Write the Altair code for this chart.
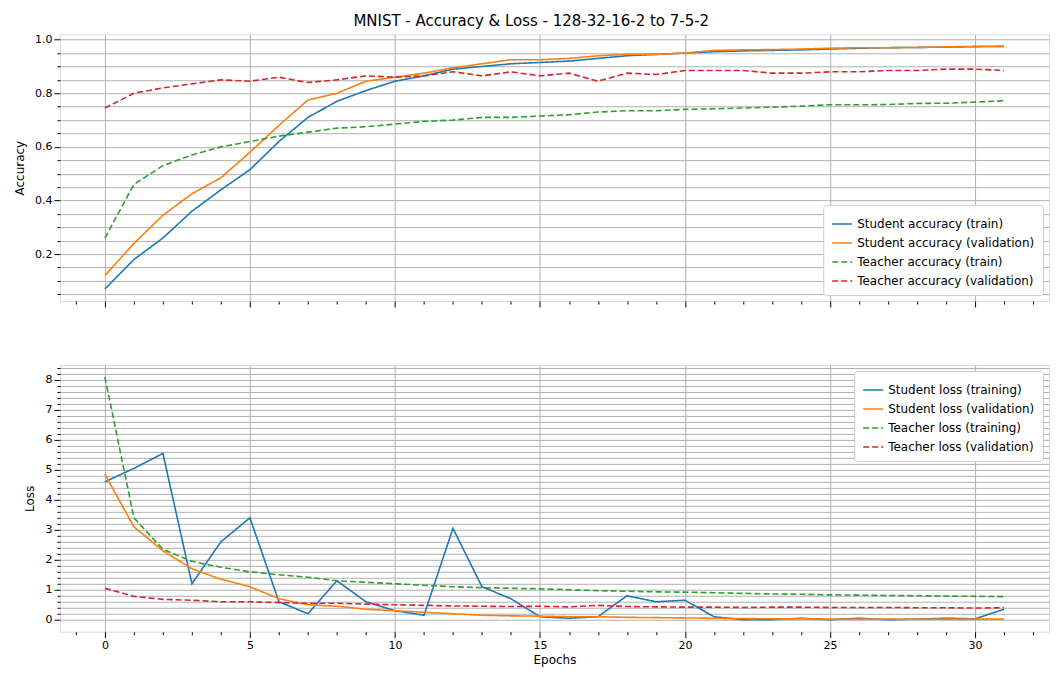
import altair as alt
import pandas as pd

epochs = list(range(32))

# accuracy
student_acc_train = [0.07, 0.18, 0.26, 0.36, 0.44, 0.515, 0.62, 0.71, 0.77, 0.81, 0.845, 0.865, 0.89, 0.90, 0.91, 0.915,
                     0.92, 0.93, 0.94, 0.945, 0.95, 0.955, 0.958, 0.96, 0.962, 0.965, 0.968, 0.97, 0.971, 0.972, 0.974, 0.975]
student_acc_val = [0.12, 0.24, 0.345, 0.425, 0.485, 0.58, 0.68, 0.775, 0.80, 0.845, 0.86, 0.875, 0.895, 0.91, 0.925, 0.925,
                   0.93, 0.94, 0.945, 0.945, 0.95, 0.96, 0.962, 0.963, 0.965, 0.968, 0.97, 0.97, 0.971, 0.973, 0.975, 0.975]
teacher_acc_train = [0.26, 0.46, 0.53, 0.57, 0.60, 0.62, 0.64, 0.655, 0.67, 0.675, 0.685, 0.695, 0.70, 0.71, 0.71, 0.715,
                     0.72, 0.73, 0.735, 0.735, 0.74, 0.742, 0.745, 0.748, 0.752, 0.757, 0.757, 0.758, 0.762, 0.763, 0.767, 0.772]
teacher_acc_val = [0.745, 0.80, 0.82, 0.835, 0.85, 0.845, 0.86, 0.84, 0.85, 0.865, 0.86, 0.865, 0.88, 0.865, 0.88, 0.865,
                   0.875, 0.845, 0.875, 0.87, 0.885, 0.885, 0.885, 0.875, 0.875, 0.88, 0.88, 0.885, 0.885, 0.89, 0.89, 0.885]

# loss
student_loss_train = [4.6, 5.05, 5.55, 1.2, 2.6, 3.4, 0.6, 0.2, 1.3, 0.6, 0.3, 0.15, 3.05, 1.1, 0.7, 0.1,
                      0.05, 0.1, 0.8, 0.6, 0.65, 0.1, 0.0, 0.0, 0.05, 0.0, 0.05, 0.0, 0.02, 0.05, 0.03, 0.35]
student_loss_val = [4.85, 3.1, 2.3, 1.7, 1.35, 1.1, 0.7, 0.5, 0.45, 0.35, 0.3, 0.25, 0.2, 0.15, 0.13, 0.12,
                    0.1, 0.1, 0.08, 0.07, 0.06, 0.05, 0.04, 0.03, 0.03, 0.02, 0.02, 0.02, 0.02, 0.02, 0.02, 0.02]
teacher_loss_train = [8.1, 3.4, 2.35, 1.95, 1.75, 1.6, 1.5, 1.42, 1.3, 1.25, 1.2, 1.15, 1.1, 1.07, 1.05, 1.03,
                      1.0, 0.97, 0.95, 0.93, 0.92, 0.9, 0.88, 0.86, 0.85, 0.83, 0.82, 0.81, 0.8, 0.79, 0.78, 0.77]
teacher_loss_val = [1.05, 0.78, 0.68, 0.65, 0.6, 0.6, 0.57, 0.55, 0.55, 0.52, 0.5, 0.48, 0.46, 0.45, 0.44, 0.45,
                    0.43, 0.48, 0.44, 0.43, 0.42, 0.42, 0.41, 0.42, 0.42, 0.41, 0.41, 0.41, 0.4, 0.4, 0.39, 0.4]

colors = ["#1f77b4", "#ff7f0e", "#2ca02c", "#d62728"]
dashes = [[1, 0], [1, 0], [6, 3], [6, 3]]


def frame(names, series):
    rows = []
    for name, vals in zip(names, series):
        for e, v in zip(epochs, vals):
            rows.append({"epoch": e, "value": v, "series": name})
    return pd.DataFrame(rows)


acc_names = ["Student accuracy (train)", "Student accuracy (validation)",
             "Teacher accuracy (train)", "Teacher accuracy (validation)"]
loss_names = ["Student loss (training)", "Student loss (validation)",
              "Teacher loss (training)", "Teacher loss (validation)"]

dfAcc = frame(acc_names, [student_acc_train, student_acc_val, teacher_acc_train, teacher_acc_val])
dfLoss = frame(loss_names, [student_loss_train, student_loss_val, teacher_loss_train, teacher_loss_val])

x_vals = [i for i in range(-1, 33)]


def panel(df, names, ytitle, ydomain, yvals, major, legend_orient, show_x):
    legend = alt.Legend(title=None, orient=legend_orient, fillColor="white", strokeColor="#cccccc",
                        padding=8, cornerRadius=3, labelFontSize=12, symbolStrokeWidth=1.5, labelLimit=0,
                        symbolType="stroke", symbolSize=400, offset=6, labelColor="black")
    xaxis = alt.Axis(values=x_vals, title="Epochs" if show_x else None,
                     labels=show_x, labelOverlap=False,
                     labelExpr="datum.value % 5 == 0 ? datum.label : ''",
                     gridOpacity={"expr": "datum.value % 5 == 0 ? 1 : 0"},
                     tickSize={"expr": "datum.value % 5 == 0 ? 6 : 3"},
                     gridColor="#b0b0b0", labelFontSize=11, titleFontSize=12, titleFontWeight="normal",
                     tickColor="black", domain=False, labelColor="black", titleColor="black")
    yaxis = alt.Axis(values=yvals, title=ytitle, labelOverlap=False, titlePadding=8,
                     labelExpr=f"abs(datum.value / {major} - round(datum.value / {major})) < 0.001 ? format(datum.value, '{'.1f' if major < 1 else 'd'}') : ''",
                     tickSize={"expr": f"abs(datum.value / {major} - round(datum.value / {major})) < 0.001 ? 6 : 3"},
                     gridColor="#b0b0b0", labelFontSize=11, titleFontSize=12, titleFontWeight="normal",
                     tickColor="black", domain=False, labelColor="black", titleColor="black")
    return alt.Chart(df).mark_line(strokeWidth=1.6).encode(
        x=alt.X("epoch:Q", scale=alt.Scale(domain=[-1.55, 32.55], nice=False), axis=xaxis),
        y=alt.Y("value:Q", scale=alt.Scale(domain=ydomain, nice=False), axis=yaxis),
        color=alt.Color("series:N", scale=alt.Scale(domain=names, range=colors), legend=legend, sort=names),
        strokeDash=alt.StrokeDash("series:N", scale=alt.Scale(domain=names, range=dashes), legend=legend, sort=names),
    ).properties(width=990, height=267)


acc_vals = [round(0.05 * i, 2) for i in range(1, 21)]
loss_vals = [round(0.2 * i, 1) for i in range(0, 43)]

top = panel(dfAcc, acc_names, "Accuracy", [0.025, 1.02], acc_vals, 0.2, "bottom-right", False)
bottom = panel(dfLoss, loss_names, "Loss", [-0.4, 8.5], loss_vals, 1, "top-right", True)

chart = alt.vconcat(top, bottom, spacing=53).resolve_scale(color="independent", strokeDash="independent").properties(
    title=alt.Title("MNIST - Accuracy & Loss - 128-32-16-2 to 7-5-2", fontSize=15, fontWeight="normal",
                    anchor="middle", color="black")
).configure_view(stroke="black", strokeWidth=1).configure(font="DejaVu Sans")

chart.save("out.html", embed_options={"renderer": "svg", "actions": False})
